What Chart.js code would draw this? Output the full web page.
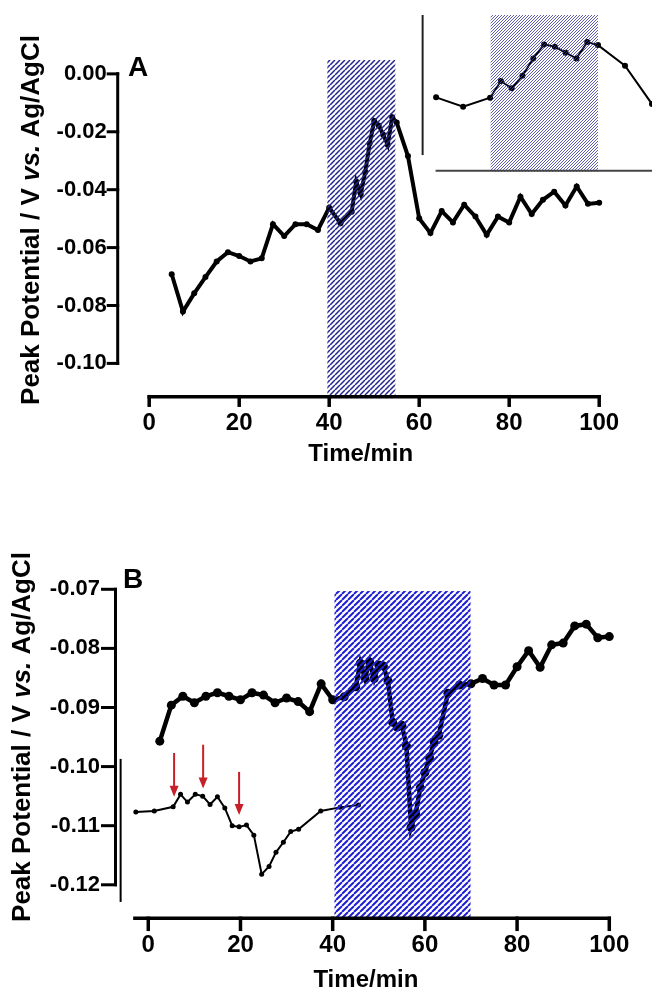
<!DOCTYPE html>
<html>
<head>
<meta charset="utf-8">
<script src="https://cdn.jsdelivr.net/npm/chart.js@4.4.1/dist/chart.umd.min.js"></script>
<style>
  body { margin: 0; background: #fff; }
  #wrap { position: relative; width: 656px; height: 992px; overflow: hidden; }
  canvas { position: absolute; }
</style>
</head>
<body>
<div id="wrap">
  <canvas id="chartA" width="656" height="480" style="left:0;top:0"></canvas>
  <canvas id="insetA" width="256" height="185" style="left:400px;top:0"></canvas>
  <canvas id="chartB" width="656" height="512" style="left:0;top:480px"></canvas>
</div>
<script>
// ---- panel A : main trace ----
const timeA = [5, 7.5, 10, 12.5, 15, 17.5, 20, 22.5, 25, 27.5, 30, 32.5, 35, 37.5, 40, 42.5, 45,
  46, 47, 48, 49, 50, 51, 52, 53, 54, 55, 57.5, 60, 62.5, 65, 67.5, 70, 72.5, 75, 77.5, 80,
  82.5, 85, 87.5, 90, 92.5, 95, 97.5, 100];
const potA = [-0.0692, -0.0821, -0.0758, -0.0702, -0.0648, -0.0616, -0.0629, -0.0648, -0.0637,
  -0.0519, -0.0560, -0.0519, -0.0519, -0.0539, -0.0462, -0.0516, -0.0476,
  -0.0372, -0.0415, -0.0340, -0.0240, -0.0163, -0.0178, -0.0210, -0.0245, -0.0150, -0.0168,
  -0.0284, -0.0499, -0.0550, -0.0474, -0.0513, -0.0452, -0.0493, -0.0556, -0.0493, -0.0513,
  -0.0424, -0.0484, -0.0435, -0.0407, -0.0455, -0.0389, -0.0449, -0.0445];

// ---- panel A : inset (zoom of the stimulation window) ----
const insetTimeA = [40, 42.5, 45, 46, 47, 48, 49, 50, 51, 52, 53, 54, 55, 57.5, 60];
const insetPotA = [-0.0460, -0.0513, -0.0462, -0.0368, -0.0409, -0.0338, -0.0240, -0.0161,
  -0.0174, -0.0208, -0.0240, -0.0148, -0.0165, -0.0281, -0.0498];

// ---- panel B : main trace ----
const timeB = [2.5, 5, 7.5, 10, 12.5, 15, 17.5, 20, 22.5, 25, 27.5, 30, 32.5, 35, 37.5, 40, 42.5,
  45, 46, 47, 48, 49, 50, 51, 52, 53, 54, 55, 56, 57, 58, 59, 60, 61, 62, 63, 65, 67.5, 70,
  72.5, 75, 77.5, 80, 82.5, 85, 87.5, 90, 92.5, 95, 97.5, 100];
const potB = [-0.0957, -0.0896, -0.0881, -0.0892, -0.0881, -0.0875, -0.0881, -0.0887, -0.0875,
  -0.0879, -0.0892, -0.0884, -0.0890, -0.0907, -0.0860, -0.0887, -0.0882,
  -0.0865, -0.0825, -0.0850, -0.0823, -0.0851, -0.0828, -0.0830, -0.0855, -0.0925, -0.0933,
  -0.0930, -0.0965, -0.1103, -0.1080, -0.1036, -0.1010, -0.0985, -0.0958, -0.0947, -0.0876,
  -0.0862, -0.0860, -0.0851, -0.0862, -0.0862, -0.0831, -0.0804, -0.0832, -0.0794, -0.0791,
  -0.0762, -0.0759, -0.0782, -0.0780];

// ---- panel B : inset trace (drawn on the main axes) ----
const insetTimeB = [-2.7, 1.3, 5.4, 7.0, 8.5, 10.2, 11.8, 13.4, 15.0, 16.6, 18.2, 19.7, 21.3,
  22.9, 24.6, 26.2, 27.7, 29.3, 30.9, 32.6, 37.4, 41.6, 45.6];
const insetPotB = [-0.1077, -0.1075, -0.1068, -0.1047, -0.1060, -0.1047, -0.1050, -0.1064,
  -0.1051, -0.1070, -0.1100, -0.1102, -0.1099, -0.1116, -0.1182, -0.1169, -0.1145, -0.1128,
  -0.1110, -0.1106, -0.1075, -0.1069, -0.1065];

// red arrows in B (time, start and tip potential)
const arrowTimeB = [5.6, 11.9, 19.7];
const arrowTopB = [-0.0977, -0.0963, -0.1009];
const arrowTipB = [-0.1051, -0.1037, -0.1082];

// ticks and shaded windows
const xTicks = [0, 20, 40, 60, 80, 100];
const yTicksA = [0, -0.02, -0.04, -0.06, -0.08, -0.10];
const yTicksB = [-0.07, -0.08, -0.09, -0.10, -0.11, -0.12];
const hatchA = [39.6, 54.7];
const hatchInsetA = [45.05, 55];
const hatchB = [40.4, 69.9];

const FONT = "'Liberation Sans', Arial, Helvetica, sans-serif";

function pts(xs, ys) {
  return xs.map((x, i) => ({ x: x, y: ys[i] }));
}

function makeHatch(color, gap, width) {
  const c = document.createElement('canvas');
  c.width = gap; c.height = gap;
  const p = c.getContext('2d');
  p.strokeStyle = color;
  p.lineWidth = width;
  p.beginPath();
  for (let k = -1; k <= 1; k++) {
    p.moveTo(k * gap, gap);
    p.lineTo(k * gap + gap, 0);
  }
  p.stroke();
  return c;
}

function drawYTitle(ctx, cx, cy, size) {
  const parts = [
    ['Peak Potential / V ', 'bold'],
    ['vs.', 'italic bold'],
    [' Ag/AgCl', 'bold']
  ];
  ctx.save();
  ctx.translate(cx, cy);
  ctx.rotate(-Math.PI / 2);
  ctx.fillStyle = '#000';
  ctx.textBaseline = 'middle';
  ctx.textAlign = 'left';
  let total = 0;
  parts.forEach(p => { ctx.font = p[1] + ' ' + size + 'px ' + FONT; total += ctx.measureText(p[0]).width; });
  let x = -total / 2;
  parts.forEach(p => {
    ctx.font = p[1] + ' ' + size + 'px ' + FONT;
    ctx.fillText(p[0], x, 0);
    x += ctx.measureText(p[0]).width;
  });
  ctx.restore();
}

// Prism-like detached axes, hatched window, panel letter, arrows
const prismPlugin = {
  id: 'prism',
  afterDatasetsDraw(chart, args, o) {
    const ctx = chart.ctx, xs = chart.scales.x, ys = chart.scales.y;
    if (o.hatch) {
      ctx.save();
      ctx.fillStyle = ctx.createPattern(makeHatch(o.hatchColor, o.hatchGap, o.hatchWidth), 'repeat');
      const l = xs.getPixelForValue(o.hatch[0]), r = xs.getPixelForValue(o.hatch[1]);
      const t = ys.getPixelForValue(o.hatchTop), b = ys.getPixelForValue(o.hatchBottom);
      ctx.fillRect(l, t, r - l, b - t);
      ctx.restore();
    }
  },
  afterDraw(chart, args, o) {
    const ctx = chart.ctx, xs = chart.scales.x, ys = chart.scales.y;
    ctx.save();
    ctx.strokeStyle = o.axisColor || '#000';
    ctx.lineCap = 'square';
    if (o.yAxis) {
      const ax = xs.getPixelForValue(o.yAxis.at);
      ctx.lineWidth = o.yAxis.width;
      ctx.beginPath();
      ctx.moveTo(ax, ys.getPixelForValue(o.yAxis.from));
      ctx.lineTo(ax, ys.getPixelForValue(o.yAxis.to));
      ctx.stroke();
      (o.yAxis.ticks || []).forEach(v => {
        const py = ys.getPixelForValue(v);
        ctx.beginPath();
        ctx.moveTo(ax - o.yAxis.tickLen, py);
        ctx.lineTo(ax, py);
        ctx.stroke();
      });
    }
    if (o.xAxis) {
      const ay = ys.getPixelForValue(o.xAxis.at);
      ctx.lineWidth = o.xAxis.width;
      ctx.beginPath();
      ctx.moveTo(xs.getPixelForValue(o.xAxis.from), ay);
      ctx.lineTo(xs.getPixelForValue(o.xAxis.to), ay);
      ctx.stroke();
      (o.xAxis.ticks || []).forEach(v => {
        const px = xs.getPixelForValue(v);
        ctx.beginPath();
        ctx.moveTo(px, ay);
        ctx.lineTo(px, ay + o.xAxis.tickLen);
        ctx.stroke();
      });
    }
    if (o.extraLines) {
      o.extraLines.forEach(L => {
        ctx.strokeStyle = L.color;
        ctx.lineWidth = L.width;
        ctx.lineCap = 'butt';
        ctx.beginPath();
        ctx.moveTo(xs.getPixelForValue(L.x1), ys.getPixelForValue(L.y1));
        ctx.lineTo(xs.getPixelForValue(L.x2), ys.getPixelForValue(L.y2));
        ctx.stroke();
      });
    }
    if (o.arrows) {
      ctx.strokeStyle = '#c8202a';
      ctx.fillStyle = '#c8202a';
      ctx.lineWidth = 2;
      ctx.lineCap = 'butt';
      o.arrows.time.forEach((t, i) => {
        const px = xs.getPixelForValue(t);
        const top = ys.getPixelForValue(o.arrows.top[i]);
        const tip = ys.getPixelForValue(o.arrows.tip[i]);
        ctx.beginPath();
        ctx.moveTo(px, top);
        ctx.lineTo(px, tip - 8);
        ctx.stroke();
        ctx.beginPath();
        ctx.moveTo(px - 4.5, tip - 11);
        ctx.lineTo(px + 4.5, tip - 11);
        ctx.lineTo(px, tip);
        ctx.closePath();
        ctx.fill();
      });
    }
    ctx.restore();
    if (o.letter) {
      ctx.save();
      ctx.fillStyle = '#000';
      ctx.font = 'bold 28px ' + FONT;
      ctx.textBaseline = 'alphabetic';
      ctx.fillText(o.letter.text, o.letter.x, o.letter.y);
      ctx.restore();
    }
    if (o.yTitle) drawYTitle(ctx, o.yTitle.x, o.yTitle.y, o.yTitle.size);
  }
};

function mainScales(xRange, yRange, yTicks, leftW, xH, yPad, xPad) {
  return {
    x: {
      type: 'linear', min: xRange[0], max: xRange[1],
      grid: { display: false, drawTicks: false }, border: { display: false },
      afterBuildTicks: s => { s.ticks = xTicks.map(v => ({ value: v })); },
      afterFit: s => { s.height = xH; },
      ticks: { color: '#000', padding: xPad, maxRotation: 0, font: { family: FONT, size: 24, weight: 'bold' } },
      title: { display: true, text: 'Time/min', color: '#000', padding: 0,
        font: { family: FONT, size: 24, weight: 'bold', lineHeight: 1 } }
    },
    y: {
      type: 'linear', min: yRange[0], max: yRange[1],
      grid: { display: false, drawTicks: false }, border: { display: false },
      afterBuildTicks: s => { s.ticks = yTicks.map(v => ({ value: v })); },
      afterFit: s => { s.width = leftW; },
      ticks: { color: '#000', padding: yPad, callback: v => v.toFixed(2),
        font: { family: FONT, size: 22, weight: 'bold' } }
    }
  };
}

// ---------- Panel A ----------
new Chart(document.getElementById('chartA'), {
  type: 'line',
  data: {
    datasets: [{
      data: pts(timeA, potA), borderColor: '#000', backgroundColor: '#000',
      borderWidth: 4, pointRadius: 3, pointBorderWidth: 0, tension: 0
    }]
  },
  options: {
    responsive: false, animation: false, devicePixelRatio: 1, events: [],
    layout: { padding: { left: 0, right: 52.3, top: 40, bottom: 14 } },
    scales: mainScales([-7, 101], [-0.1115, 0.0117], yTicksA, 117.7, 69.3, 11, 12),
    plugins: {
      legend: { display: false }, tooltip: { enabled: false },
      prism: {
        hatch: hatchA, hatchTop: 0.0048, hatchBottom: -0.1120,
        hatchColor: '#24248e', hatchGap: 5, hatchWidth: 1.5,
        yAxis: { at: -7, from: 0, to: -0.10, ticks: yTicksA, tickLen: 9.5, width: 3 },
        xAxis: { at: -0.1115, from: 0, to: 100, ticks: xTicks, tickLen: 8.5, width: 3.5 },
        letter: { text: 'A', x: 128, y: 76 },
        yTitle: { x: 31.5, y: 220, size: 26 }
      }
    }
  },
  plugins: [prismPlugin]
});

// ---------- Panel A inset ----------
new Chart(document.getElementById('insetA'), {
  type: 'line',
  data: {
    datasets: [{
      data: pts(insetTimeA, insetPotA), borderColor: '#000', backgroundColor: '#000',
      borderWidth: 2, pointRadius: 3, pointBorderWidth: 0, tension: 0
    }]
  },
  options: {
    responsive: false, animation: false, devicePixelRatio: 1, events: [],
    layout: { padding: { left: 21, right: 0, top: 15, bottom: 13.3 } },
    scales: {
      x: { type: 'linear', display: false, min: 38.6, max: 60 },
      y: { type: 'linear', display: false, min: -0.088, max: 0.0005 }
    },
    plugins: {
      legend: { display: false }, tooltip: { enabled: false },
      prism: {
        hatch: hatchInsetA, hatchTop: 0.0005, hatchBottom: -0.088,
        hatchColor: '#34349a', hatchGap: 3, hatchWidth: 0.8,
        extraLines: [
          { x1: 38.75, y1: 0.0005, x2: 38.75, y2: -0.0786, color: '#222', width: 2 },
          { x1: 39.95, y1: -0.0874, x2: 60, y2: -0.0874, color: '#444', width: 2 }
        ]
      }
    }
  },
  plugins: [prismPlugin]
});

// ---------- Panel B ----------
new Chart(document.getElementById('chartB'), {
  type: 'line',
  data: {
    datasets: [{
      data: pts(insetTimeB, insetPotB), borderColor: '#000', backgroundColor: '#000',
      borderWidth: 2, pointRadius: 2.5, pointBorderWidth: 0, tension: 0
    }, {
      data: pts(timeB, potB), borderColor: '#000', backgroundColor: '#000',
      borderWidth: 4.5, pointRadius: 4.5, pointBorderWidth: 0, tension: 0
    }]
  },
  options: {
    responsive: false, animation: false, devicePixelRatio: 1, events: [],
    layout: { padding: { left: 0, right: 39.8, top: 60, bottom: 0 } },
    scales: mainScales([-7.11, 101.5], [-0.12567, -0.06166], yTicksB, 115.5, 73.7, 15.5, 13),
    plugins: {
      legend: { display: false }, tooltip: { enabled: false },
      prism: {
        hatch: hatchB, hatchTop: -0.0703, hatchBottom: -0.12567,
        hatchColor: '#1e1ed2', hatchGap: 6, hatchWidth: 2,
        yAxis: { at: -7.11, from: -0.07, to: -0.12, ticks: yTicksB, tickLen: 13, width: 3 },
        xAxis: { at: -0.12567, from: -2.9, to: 100, ticks: xTicks, tickLen: 11, width: 3.5 },
        extraLines: [
          { x1: -6.0, y1: -0.0987, x2: -6.0, y2: -0.1229, color: '#000', width: 2 }
        ],
        arrows: { time: arrowTimeB, top: arrowTopB, tip: arrowTipB },
        letter: { text: 'B', x: 123, y: 108 },
        yTitle: { x: 23, y: 257, size: 26 }
      }
    }
  },
  plugins: [prismPlugin]
});
</script>
</body>
</html>
